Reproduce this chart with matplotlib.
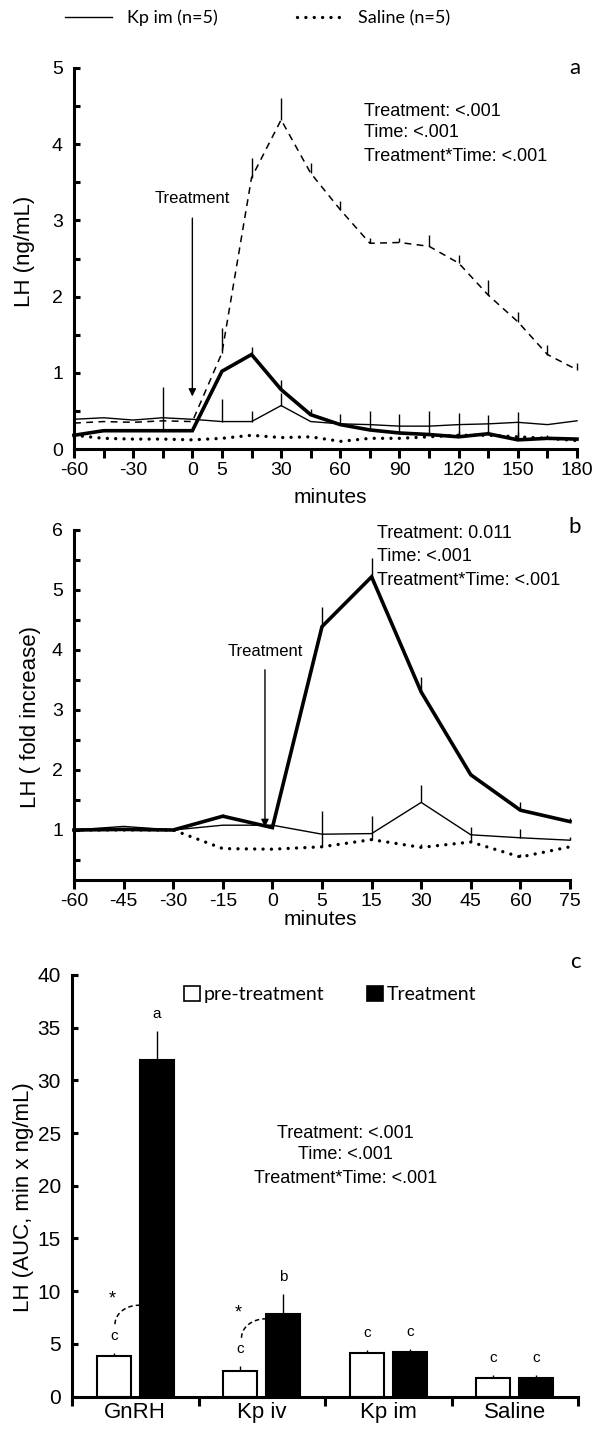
import matplotlib
matplotlib.use("Agg")
import matplotlib.pyplot as plt
import numpy as np
from matplotlib.lines import Line2D
from matplotlib.patches import Patch

ARIAL = "Liberation Sans"
CALIBRI = "Lato"

# ---------------- data ----------------
# Panel a: LH concentration (ng/mL)
times_a = [-60, -45, -30, -15, 0, 5, 15, 30, 45, 60, 75, 90, 105, 120, 135, 150, 165, 180]
shown_a = [-60, -30, 0, 5, 30, 60, 90, 120, 150, 180]
gnrh_a = [0.34, 0.36, 0.35, 0.37, 0.36, 1.26, 3.56, 4.32, 3.62, 3.14, 2.70, 2.71, 2.66, 2.44, 2.02, 1.67, 1.24, 1.04]
gnrh_a_err = [0, 0, 0, 0, 0, 0.33, 0.26, 0.28, 0.13, 0.11, 0.07, 0.06, 0.15, 0.11, 0.20, 0.13, 0.13, 0.09]
kpiv_a = [0.18, 0.24, 0.24, 0.24, 0.24, 1.02, 1.24, 0.78, 0.45, 0.32, 0.25, 0.21, 0.19, 0.16, 0.20, 0.12, 0.14, 0.13]
kpiv_a_err = [0, 0, 0, 0.57, 0, 0, 0.10, 0.12, 0.07, 0.14, 0.25, 0.25, 0.31, 0.31, 0.25, 0.36, 0, 0]
kpim_a = [0.39, 0.41, 0.38, 0.41, 0.39, 0.36, 0.36, 0.57, 0.36, 0.33, 0.32, 0.30, 0.30, 0.32, 0.33, 0.35, 0.32, 0.37]
kpim_a_err = [0, 0, 0, 0, 0, 0.30, 0.14, 0.16, 0, 0, 0, 0, 0, 0, 0, 0, 0, 0]
saline_a = [0.18, 0.14, 0.13, 0.13, 0.12, 0.14, 0.18, 0.15, 0.16, 0.10, 0.14, 0.14, 0.16, 0.18, 0.18, 0.16, 0.14, 0.11]
saline_a_err = [0, 0, 0, 0, 0, 0, 0, 0, 0, 0, 0, 0, 0, 0.05, 0.05, 0.06, 0.04, 0]

# Panel b: LH fold increase
times_b = [-60, -45, -30, -15, 0, 5, 15, 30, 45, 60, 75]
kpiv_b = [1.0, 1.01, 1.0, 1.23, 1.04, 4.39, 5.22, 3.30, 1.92, 1.33, 1.14]
kpiv_b_err = [0, 0, 0, 0.03, 0, 0.33, 0.31, 0.25, 0.03, 0.13, 0.06]
kpim_b = [1.0, 1.06, 1.0, 1.08, 1.08, 0.93, 0.94, 1.46, 0.92, 0.87, 0.83]
kpim_b_err = [0, 0, 0, 0, 0, 0, 0, 0.29, 0, 0.14, 0.05]
saline_b = [1.0, 1.0, 1.0, 0.69, 0.68, 0.72, 0.84, 0.71, 0.80, 0.55, 0.72]
saline_b_err = [0, 0, 0, 0, 0, 0.60, 0.39, 0.06, 0.25, 0.05, 0]

# Panel c: LH area under the curve
groups = ["GnRH", "Kp iv", "Kp im", "Saline"]
pre_auc = [3.80, 2.39, 4.16, 1.77]
pre_auc_err = [0.36, 0.48, 0.25, 0.26]
trt_auc = [31.98, 7.84, 4.27, 1.77]
trt_auc_err = [2.72, 1.90, 0.26, 0.26]
pre_letters = ["c", "c", "c", "c"]
trt_letters = ["a", "b", "c", "c"]
paired_sig = [True, True, False, False]

stats_a = ["Treatment: <.001", "Time: <.001", "Treatment*Time: <.001"]
stats_b = ["Treatment: 0.011", "Time: <.001", "Treatment*Time: <.001"]
stats_c = ["Treatment: <.001", "Time: <.001", "Treatment*Time: <.001"]

# ---------------- styles ----------------
THICK = dict(color="black", lw=2.6, solid_joinstyle="miter")
THIN = dict(color="black", lw=1.0)
DASH = dict(color="black", lw=1.1, dashes=(4.5, 3.5))
DOT = dict(color="black", lw=2.4, dashes=(0.01, 2.5), dash_capstyle="round")

W, H = 593, 1431
fig = plt.figure(figsize=(W / 100, H / 100), dpi=100)


def px_axes(left, top, right, bottom):
    return fig.add_axes([left / W, 1 - bottom / H, (right - left) / W, (bottom - top) / H])


def style(ax, fs=14):
    for s in ("top", "right"):
        ax.spines[s].set_visible(False)
    for s in ("left", "bottom"):
        ax.spines[s].set_linewidth(2.2)
    ax.tick_params(axis="x", direction="out", length=6.5, width=2.2, labelsize=fs, pad=3)
    ax.tick_params(axis="y", direction="in", length=4.5, width=2.2, labelsize=fs, pad=8)
    for lab in ax.get_xticklabels() + ax.get_yticklabels():
        lab.set_family(ARIAL)


def ylabel(ax, text, x, y):
    ax.set_ylabel(text, family=ARIAL, fontsize=16)
    ax.yaxis.set_label_coords(x, y)
    ax.yaxis.label.set_verticalalignment("center")


def up_err(ax, x, y, e):
    ax.errorbar(x, y, yerr=[np.zeros(len(e)), e], fmt="none", ecolor="black",
                elinewidth=1.0, capsize=0, clip_on=False)


def series(ax, x, y, e, st):
    ax.plot(x, y, clip_on=False, **st)
    up_err(ax, x, y, e)


# ---------------- panel a ----------------
axa = px_axes(74, 68, 577, 449)
xa = np.arange(len(times_a))
series(axa, xa, saline_a, saline_a_err, DOT)
series(axa, xa, kpim_a, kpim_a_err, THIN)
series(axa, xa, gnrh_a, gnrh_a_err, DASH)
series(axa, xa, kpiv_a, kpiv_a_err, THICK)
axa.set_xlim(0, len(times_a) - 1)
axa.set_ylim(0, 5)
axa.set_xticks(xa)
axa.set_xticklabels([str(t) if t in shown_a else "" for t in times_a])
yt = np.arange(0, 5.01, 0.5)
axa.set_yticks(yt)
axa.set_yticklabels([f"{v:g}" if v == int(v) else "" for v in yt])
style(axa)
i0 = times_a.index(0)
axa.annotate("", xy=(i0, 0.69), xytext=(i0, 3.03),
             arrowprops=dict(arrowstyle="-|>", lw=1.0, color="black", mutation_scale=11,
                             shrinkA=0, shrinkB=0))
axa.text(i0, 3.29, "Treatment", ha="center", va="center", family=ARIAL, fontsize=12)
for s, yy in zip(stats_a, [0.885, 0.830, 0.767]):
    axa.text(0.577, yy, s, transform=axa.transAxes, ha="left", va="center",
             family=ARIAL, fontsize=13)
axa.text(0.996, 1.0, "a", transform=axa.transAxes, ha="center", va="center",
         family=CALIBRI, fontsize=16)
axa.text(0.509, -0.126, "minutes", transform=axa.transAxes, ha="center", va="center",
         family=ARIAL, fontsize=15)
ylabel(axa, "LH (ng/mL)", -0.099, 0.52)

# ---------------- panel b ----------------
axb = px_axes(74, 530, 570, 880)
xb = np.arange(len(times_b))
series(axb, xb, saline_b, saline_b_err, DOT)
series(axb, xb, kpim_b, kpim_b_err, THIN)
series(axb, xb, kpiv_b, kpiv_b_err, THICK)
axb.set_xlim(0, len(times_b) - 1)
axb.set_ylim(1 - 50 / 60, 6)
axb.set_xticks(xb)
axb.set_xticklabels([str(t) for t in times_b])
ytb = np.arange(0.5, 6.01, 0.5)
axb.set_yticks(ytb)
axb.set_yticklabels([f"{v:g}" if v == int(v) else "" for v in ytb])
style(axb)
axb.annotate("", xy=(3.85, 1.05), xytext=(3.85, 3.67),
             arrowprops=dict(arrowstyle="-|>", lw=1.0, color="black", mutation_scale=11,
                             shrinkA=0, shrinkB=0))
axb.text(3.85, 3.97, "Treatment", ha="center", va="center", family=ARIAL, fontsize=12)
for s, yy in zip(stats_b, [0.991, 0.923, 0.857]):
    axb.text(0.611, yy, s, transform=axb.transAxes, ha="left", va="center",
             family=ARIAL, fontsize=13)
axb.text(1.01, 1.009, "b", transform=axb.transAxes, ha="center", va="center",
         family=CALIBRI, fontsize=16)
axb.text(0.496, -0.114, "minutes", transform=axb.transAxes, ha="center", va="center",
         family=ARIAL, fontsize=15)
ylabel(axb, "LH ( fold increase)", -0.0887, 0.466)

# ---------------- panel c ----------------
axc = px_axes(72, 975, 578, 1396.5)
xc = np.arange(len(groups)) + 0.5
off, bw = 0.17, 0.27
axc.bar(xc - off, pre_auc, width=bw, color="white", edgecolor="black", linewidth=1.5, zorder=2)
axc.bar(xc + off, trt_auc, width=bw, color="black", edgecolor="black", linewidth=1.5, zorder=2)
up_err(axc, xc - off, pre_auc, pre_auc_err)
up_err(axc, xc + off, trt_auc, trt_auc_err)
for i in range(len(groups)):
    yp = pre_auc[i] + pre_auc_err[i] + 1.6
    yt_ = trt_auc[i] + trt_auc_err[i] + 1.6
    axc.text(xc[i] - off, yp, pre_letters[i], ha="center", va="center", family=ARIAL, fontsize=11)
    axc.text(xc[i] + off, yt_, trt_letters[i], ha="center", va="center", family=ARIAL, fontsize=11)
    if paired_sig[i]:
        # dashed hook linking the two bars of a significantly different pair
        x0, y0 = xc[i] - off + 0.01, yp + 1.1
        x1, y1 = xc[i] + off - bw / 2 - 0.005, y0 + 1.8
        t = np.linspace(0, np.pi / 2, 40)
        axc.plot(x0 + (x1 - x0) * (1 - np.cos(t)), y0 + (y1 - y0) * np.sin(t),
                 color="black", lw=1.1, dashes=(3, 2))
        axc.text(x0 - 0.025, y0 + 2.4, "*", ha="center", va="center", family=ARIAL, fontsize=13)
axc.set_xlim(0, len(groups))
axc.set_ylim(0, 40)
axc.set_xticks(np.arange(len(groups) + 1))
axc.set_xticklabels([])
axc.set_xticks(xc, minor=True)
axc.set_xticklabels(groups, minor=True)
axc.set_yticks(np.arange(0, 41, 5))
style(axc, fs=15)
axc.tick_params(axis="x", which="minor", length=0, labelsize=16, pad=4)
for lab in axc.get_xticklabels(minor=True):
    lab.set_family(ARIAL)
for s, yy in zip(stats_c, [0.623, 0.573, 0.518]):
    axc.text(0.54, yy, s, transform=axc.transAxes, ha="center", va="center",
             family=ARIAL, fontsize=13)
axc.text(0.994, 1.032, "c", transform=axc.transAxes, ha="center", va="center",
         family=CALIBRI, fontsize=16)
ylabel(axc, "LH (AUC, min x ng/mL)", -0.095, 0.472)
axc.legend(handles=[Patch(facecolor="white", edgecolor="black", lw=1.2, label="pre-treatment"),
                    Patch(facecolor="black", edgecolor="black", lw=1.2, label="Treatment")],
           loc="center", bbox_to_anchor=(0.51, 0.954), ncol=2, frameon=False,
           prop=dict(family=CALIBRI, size=14), handlelength=0.8, handleheight=0.8,
           handletextpad=0.2, columnspacing=2.2)

# ---------------- top legend ----------------
fig.legend(handles=[Line2D([], [], label="Kp im (n=5)", **THIN),
                    Line2D([], [], label="Saline (n=5)", **DOT)],
           loc="center", bbox_to_anchor=(258 / W, 1 - 18 / H), ncol=2, frameon=False,
           prop=dict(family=CALIBRI, size=13), handlelength=2.6, handletextpad=0.8,
           columnspacing=4.4)

fig.savefig("out.png", dpi=100)
